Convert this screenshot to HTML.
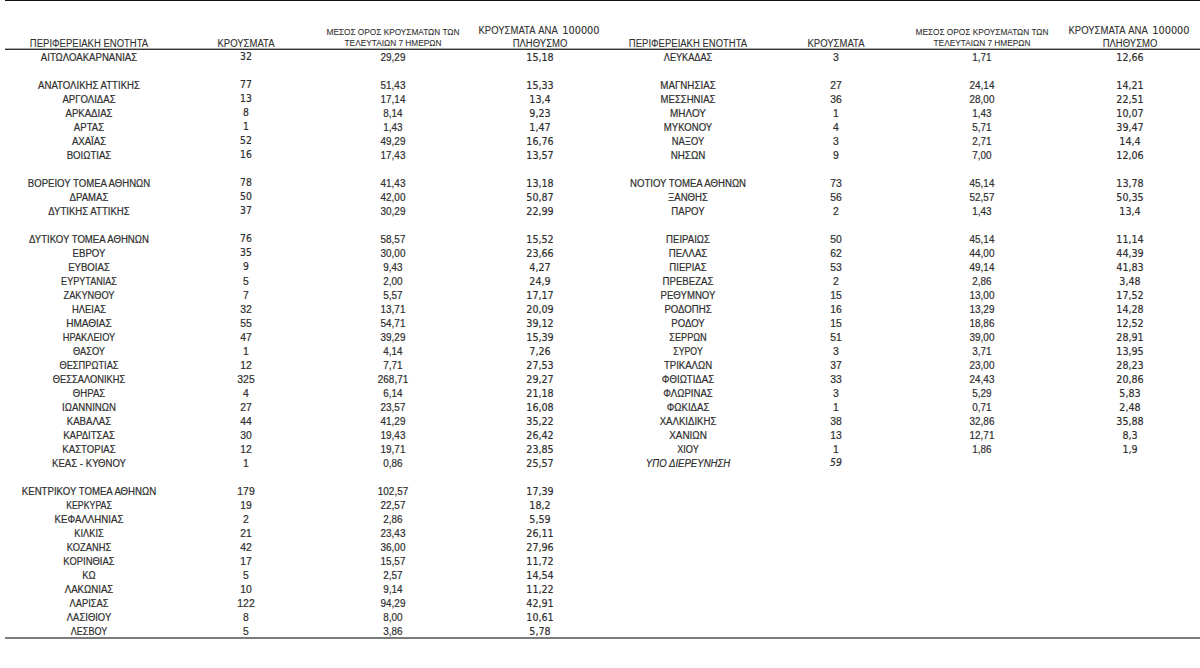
<!DOCTYPE html>
<html lang="el"><head><meta charset="utf-8"><title>Κρούσματα ανά περιφερειακή ενότητα</title>
<style>
html,body{margin:0;padding:0;background:#fff;}
body{width:1200px;height:668px;position:relative;overflow:hidden;font-family:"Liberation Sans",Arial,sans-serif;color:#2a2a2a;}
.t{position:absolute;white-space:nowrap;height:0;line-height:0;-webkit-text-stroke:0.2px #3a3a3a;}
.fnA{font-family:"Liberation Sans",Arial,sans-serif;font-size:10.0px;}
.fnC{font-family:"Liberation Sans",Arial,sans-serif;font-size:10.2px;}
.fcA{font-family:"DejaVu Sans",Verdana,sans-serif;font-size:10.0px;}
.fcC{font-family:"Liberation Sans",Arial,sans-serif;font-size:10.2px;}
.fav{font-family:"Liberation Sans",Arial,sans-serif;font-size:10.4px;}
.fpk{font-family:"DejaVu Sans",Verdana,sans-serif;font-size:10.3px;}
.fhA{font-family:"Liberation Sans",Arial,sans-serif;font-size:10.0px;}
.fhC{font-family:"Liberation Sans",Arial,sans-serif;font-size:8.9px;}
.fhV{font-family:"DejaVu Sans",Verdana,sans-serif;font-size:9.8px;}
.it{font-style:italic;}
.fhA,.fhC,.fhV{color:#2a2a2a;-webkit-text-stroke:0.08px #444;}
.v{font-family:"DejaVu Sans",Verdana,sans-serif;font-size:9.6px;}
.ln{position:absolute;}
</style></head><body>

<div class="ln" style="left:5px;top:0px;width:1195px;height:1px;background:#111"></div>
<div class="ln" style="left:5px;top:49px;width:1195px;height:1px;background:#363636"></div>
<div class="ln" style="left:5px;top:48px;width:1195px;height:1px;background:#a8a8a8"></div>
<div class="ln" style="left:5px;top:637.2px;width:1195px;height:1.5px;background:#7c7c7c"></div>

<div class="t fhA" style="left:88.80px;top:44.14px;transform:translateX(-50%) scaleX(0.95)">ΠΕΡΙΦΕΡΕΙΑΚΗ ΕΝΟΤΗΤΑ</div>
<div class="t fhA" style="left:246.00px;top:44.14px;transform:translateX(-50%) scaleX(0.95)">ΚΡΟΥΣΜΑΤΑ</div>
<div class="t fhC" style="left:392.60px;top:32.12px;transform:translateX(-50%) scaleX(0.931)">ΜΕΣΟΣ ΟΡΟΣ ΚΡΟΥΣΜΑΤΩΝ ΤΩΝ</div>
<div class="t fhC" style="left:392.60px;top:43.42px;transform:translateX(-50%) scaleX(0.933)">ΤΕΛΕΥΤΑΙΩΝ 7 ΗΜΕΡΩΝ</div>
<div class="t fhA" style="left:507.30px;top:30.64px;transform:translateX(-50%) scaleX(0.95)">ΚΡΟΥΣΜΑΤΑ</div>
<div class="t fhA" style="left:548.30px;top:30.64px;transform:translateX(-50%) scaleX(0.95)">ΑΝΑ</div>
<div class="t fhV" style="left:580.90px;top:30.70px;transform:translateX(-50%)">100000</div>
<div class="t fhA" style="left:539.50px;top:44.14px;transform:translateX(-50%) scaleX(0.95)">ΠΛΗΘΥΣΜΟ</div>
<div class="t fhA" style="left:687.70px;top:44.14px;transform:translateX(-50%) scaleX(0.95)">ΠΕΡΙΦΕΡΕΙΑΚΗ ΕΝΟΤΗΤΑ</div>
<div class="t fhA" style="left:835.50px;top:44.14px;transform:translateX(-50%) scaleX(0.95)">ΚΡΟΥΣΜΑΤΑ</div>
<div class="t fhC" style="left:982.40px;top:32.12px;transform:translateX(-50%) scaleX(0.931)">ΜΕΣΟΣ ΟΡΟΣ ΚΡΟΥΣΜΑΤΩΝ ΤΩΝ</div>
<div class="t fhC" style="left:982.40px;top:43.42px;transform:translateX(-50%) scaleX(0.933)">ΤΕΛΕΥΤΑΙΩΝ 7 ΗΜΕΡΩΝ</div>
<div class="t fhA" style="left:1097.30px;top:30.64px;transform:translateX(-50%) scaleX(0.95)">ΚΡΟΥΣΜΑΤΑ</div>
<div class="t fhA" style="left:1138.30px;top:30.64px;transform:translateX(-50%) scaleX(0.95)">ΑΝΑ</div>
<div class="t fhV" style="left:1170.90px;top:30.70px;transform:translateX(-50%)">100000</div>
<div class="t fhA" style="left:1129.50px;top:44.14px;transform:translateX(-50%) scaleX(0.95)">ΠΛΗΘΥΣΜΟ</div>
<div class="t fnA" style="left:88.80px;top:57.83px;transform:translateX(-50%) scaleX(0.96)">ΑΙΤΩΛΟΑΚΑΡΝΑΝΙΑΣ</div>
<div class="t fcA" style="left:246.00px;top:57.33px;transform:translateX(-50%) scaleX(0.93)">32</div>
<div class="t fav" style="left:392.60px;top:58.10px;transform:translateX(-50%) scaleX(0.954)">29,29</div>
<div class="t fpk" style="left:539.50px;top:56.93px;transform:translateX(-50%) scaleX(0.93)">15,18</div>
<div class="t fnA" style="left:88.80px;top:85.83px;transform:translateX(-50%) scaleX(0.96)">ΑΝΑΤΟΛΙΚΗΣ ΑΤΤΙΚΗΣ</div>
<div class="t fcA" style="left:246.00px;top:85.33px;transform:translateX(-50%) scaleX(0.93)">77</div>
<div class="t fav" style="left:392.60px;top:86.10px;transform:translateX(-50%) scaleX(0.954)">51,43</div>
<div class="t fpk" style="left:539.50px;top:84.93px;transform:translateX(-50%) scaleX(0.93)">15,33</div>
<div class="t fnA" style="left:88.80px;top:99.83px;transform:translateX(-50%) scaleX(0.96)">ΑΡΓΟΛΙΔΑΣ</div>
<div class="t fcA" style="left:246.00px;top:99.33px;transform:translateX(-50%) scaleX(0.93)">13</div>
<div class="t fav" style="left:392.60px;top:100.10px;transform:translateX(-50%) scaleX(0.954)">17,14</div>
<div class="t fpk" style="left:539.50px;top:98.93px;transform:translateX(-50%) scaleX(0.93)">13,4</div>
<div class="t fnA" style="left:88.80px;top:113.83px;transform:translateX(-50%) scaleX(0.96)">ΑΡΚΑΔΙΑΣ</div>
<div class="t fcA" style="left:246.00px;top:113.33px;transform:translateX(-50%) scaleX(0.93)">8</div>
<div class="t fav" style="left:392.60px;top:114.10px;transform:translateX(-50%) scaleX(0.953)">8,14</div>
<div class="t fpk" style="left:539.50px;top:112.93px;transform:translateX(-50%) scaleX(0.93)">9,23</div>
<div class="t fnA" style="left:88.80px;top:127.84px;transform:translateX(-50%) scaleX(0.96)">ΑΡΤΑΣ</div>
<div class="t fcA" style="left:246.00px;top:127.34px;transform:translateX(-50%) scaleX(0.93)">1</div>
<div class="t fav" style="left:392.60px;top:128.10px;transform:translateX(-50%) scaleX(0.953)">1,43</div>
<div class="t fpk" style="left:539.50px;top:126.93px;transform:translateX(-50%) scaleX(0.93)">1,47</div>
<div class="t fnA" style="left:88.80px;top:141.84px;transform:translateX(-50%) scaleX(0.96)">ΑΧΑΪΑΣ</div>
<div class="t fcA" style="left:246.00px;top:141.34px;transform:translateX(-50%) scaleX(0.93)">52</div>
<div class="t fav" style="left:392.60px;top:142.10px;transform:translateX(-50%) scaleX(0.954)">49,29</div>
<div class="t fpk" style="left:539.50px;top:140.93px;transform:translateX(-50%) scaleX(0.93)">16,76</div>
<div class="t fnA" style="left:88.80px;top:155.84px;transform:translateX(-50%) scaleX(0.96)">ΒΟΙΩΤΙΑΣ</div>
<div class="t fcA" style="left:246.00px;top:155.34px;transform:translateX(-50%) scaleX(0.93)">16</div>
<div class="t fav" style="left:392.60px;top:156.10px;transform:translateX(-50%) scaleX(0.954)">17,43</div>
<div class="t fpk" style="left:539.50px;top:154.93px;transform:translateX(-50%) scaleX(0.93)">13,57</div>
<div class="t fnA" style="left:88.80px;top:183.84px;transform:translateX(-50%) scaleX(0.96)">ΒΟΡΕΙΟΥ ΤΟΜΕΑ ΑΘΗΝΩΝ</div>
<div class="t fcA" style="left:246.00px;top:183.34px;transform:translateX(-50%) scaleX(0.93)">78</div>
<div class="t fav" style="left:392.60px;top:184.10px;transform:translateX(-50%) scaleX(0.954)">41,43</div>
<div class="t fpk" style="left:539.50px;top:182.93px;transform:translateX(-50%) scaleX(0.93)">13,18</div>
<div class="t fnA" style="left:88.80px;top:197.84px;transform:translateX(-50%) scaleX(0.96)">ΔΡΑΜΑΣ</div>
<div class="t fcA" style="left:246.00px;top:197.34px;transform:translateX(-50%) scaleX(0.93)">50</div>
<div class="t fav" style="left:392.60px;top:198.10px;transform:translateX(-50%) scaleX(0.954)">42,00</div>
<div class="t fpk" style="left:539.50px;top:196.93px;transform:translateX(-50%) scaleX(0.93)">50,87</div>
<div class="t fnA" style="left:88.80px;top:211.84px;transform:translateX(-50%) scaleX(0.96)">ΔΥΤΙΚΗΣ ΑΤΤΙΚΗΣ</div>
<div class="t fcA" style="left:246.00px;top:211.34px;transform:translateX(-50%) scaleX(0.93)">37</div>
<div class="t fav" style="left:392.60px;top:212.10px;transform:translateX(-50%) scaleX(0.954)">30,29</div>
<div class="t fpk" style="left:539.50px;top:210.93px;transform:translateX(-50%) scaleX(0.93)">22,99</div>
<div class="t fnA" style="left:88.80px;top:239.84px;transform:translateX(-50%) scaleX(0.96)">ΔΥΤΙΚΟΥ ΤΟΜΕΑ ΑΘΗΝΩΝ</div>
<div class="t fcA" style="left:246.00px;top:239.34px;transform:translateX(-50%) scaleX(0.93)">76</div>
<div class="t fav" style="left:392.60px;top:240.10px;transform:translateX(-50%) scaleX(0.954)">58,57</div>
<div class="t fpk" style="left:539.50px;top:238.93px;transform:translateX(-50%) scaleX(0.93)">15,52</div>
<div class="t fnA" style="left:88.80px;top:253.84px;transform:translateX(-50%) scaleX(0.96)">ΕΒΡΟΥ</div>
<div class="t fcA" style="left:246.00px;top:253.34px;transform:translateX(-50%) scaleX(0.93)">35</div>
<div class="t fav" style="left:392.60px;top:254.10px;transform:translateX(-50%) scaleX(0.954)">30,00</div>
<div class="t fpk" style="left:539.50px;top:252.93px;transform:translateX(-50%) scaleX(0.93)">23,66</div>
<div class="t fnA" style="left:88.80px;top:267.84px;transform:translateX(-50%) scaleX(0.96)">ΕΥΒΟΙΑΣ</div>
<div class="t fcA" style="left:246.00px;top:267.34px;transform:translateX(-50%) scaleX(0.93)">9</div>
<div class="t fav" style="left:392.60px;top:268.10px;transform:translateX(-50%) scaleX(0.953)">9,43</div>
<div class="t fpk" style="left:539.50px;top:266.93px;transform:translateX(-50%) scaleX(0.93)">4,27</div>
<div class="t fnC" style="left:88.80px;top:281.77px;transform:translateX(-50%) scaleX(0.889)">ΕΥΡΥΤΑΝΙΑΣ</div>
<div class="t fcC" style="left:246.00px;top:281.77px;transform:translateX(-50%) scaleX(1.019)">5</div>
<div class="t fav" style="left:392.60px;top:282.10px;transform:translateX(-50%) scaleX(0.953)">2,00</div>
<div class="t fpk" style="left:539.50px;top:280.93px;transform:translateX(-50%) scaleX(0.93)">24,9</div>
<div class="t fnC" style="left:88.80px;top:295.77px;transform:translateX(-50%) scaleX(0.906)">ΖΑΚΥΝΘΟΥ</div>
<div class="t fcC" style="left:246.00px;top:295.77px;transform:translateX(-50%) scaleX(1.019)">7</div>
<div class="t fav" style="left:392.60px;top:296.10px;transform:translateX(-50%) scaleX(0.953)">5,57</div>
<div class="t fpk" style="left:539.50px;top:294.93px;transform:translateX(-50%) scaleX(0.93)">17,17</div>
<div class="t fnC" style="left:88.80px;top:309.77px;transform:translateX(-50%) scaleX(0.918)">ΗΛΕΙΑΣ</div>
<div class="t fcC" style="left:246.00px;top:309.77px;transform:translateX(-50%) scaleX(1.019)">32</div>
<div class="t fav" style="left:392.60px;top:310.10px;transform:translateX(-50%) scaleX(0.954)">13,71</div>
<div class="t fpk" style="left:539.50px;top:308.93px;transform:translateX(-50%) scaleX(0.93)">20,09</div>
<div class="t fnC" style="left:88.80px;top:323.77px;transform:translateX(-50%) scaleX(0.983)">ΗΜΑΘΙΑΣ</div>
<div class="t fcC" style="left:246.00px;top:323.77px;transform:translateX(-50%) scaleX(1.019)">55</div>
<div class="t fav" style="left:392.60px;top:324.10px;transform:translateX(-50%) scaleX(0.954)">54,71</div>
<div class="t fpk" style="left:539.50px;top:322.93px;transform:translateX(-50%) scaleX(0.93)">39,12</div>
<div class="t fnC" style="left:88.80px;top:337.77px;transform:translateX(-50%) scaleX(0.906)">ΗΡΑΚΛΕΙΟΥ</div>
<div class="t fcC" style="left:246.00px;top:337.77px;transform:translateX(-50%) scaleX(1.019)">47</div>
<div class="t fav" style="left:392.60px;top:338.10px;transform:translateX(-50%) scaleX(0.954)">39,29</div>
<div class="t fpk" style="left:539.50px;top:336.93px;transform:translateX(-50%) scaleX(0.93)">15,39</div>
<div class="t fnC" style="left:88.80px;top:351.77px;transform:translateX(-50%) scaleX(0.909)">ΘΑΣΟΥ</div>
<div class="t fcC" style="left:246.00px;top:351.77px;transform:translateX(-50%) scaleX(1.019)">1</div>
<div class="t fav" style="left:392.60px;top:352.10px;transform:translateX(-50%) scaleX(0.953)">4,14</div>
<div class="t fpk" style="left:539.50px;top:350.93px;transform:translateX(-50%) scaleX(0.93)">7,26</div>
<div class="t fnC" style="left:88.80px;top:365.77px;transform:translateX(-50%) scaleX(0.91)">ΘΕΣΠΡΩΤΙΑΣ</div>
<div class="t fcC" style="left:246.00px;top:365.77px;transform:translateX(-50%) scaleX(1.019)">12</div>
<div class="t fav" style="left:392.60px;top:366.10px;transform:translateX(-50%) scaleX(0.953)">7,71</div>
<div class="t fpk" style="left:539.50px;top:364.93px;transform:translateX(-50%) scaleX(0.93)">27,53</div>
<div class="t fnC" style="left:88.80px;top:379.77px;transform:translateX(-50%) scaleX(0.914)">ΘΕΣΣΑΛΟΝΙΚΗΣ</div>
<div class="t fcC" style="left:246.00px;top:379.77px;transform:translateX(-50%) scaleX(1.019)">325</div>
<div class="t fav" style="left:392.60px;top:380.10px;transform:translateX(-50%) scaleX(0.954)">268,71</div>
<div class="t fpk" style="left:539.50px;top:378.93px;transform:translateX(-50%) scaleX(0.93)">29,27</div>
<div class="t fnA" style="left:88.80px;top:393.84px;transform:translateX(-50%) scaleX(0.96)">ΘΗΡΑΣ</div>
<div class="t fcC" style="left:246.00px;top:393.77px;transform:translateX(-50%) scaleX(1.019)">4</div>
<div class="t fav" style="left:392.60px;top:394.10px;transform:translateX(-50%) scaleX(0.953)">6,14</div>
<div class="t fpk" style="left:539.50px;top:392.93px;transform:translateX(-50%) scaleX(0.93)">21,18</div>
<div class="t fnA" style="left:88.80px;top:407.84px;transform:translateX(-50%) scaleX(0.96)">ΙΩΑΝΝΙΝΩΝ</div>
<div class="t fcC" style="left:246.00px;top:407.77px;transform:translateX(-50%) scaleX(1.019)">27</div>
<div class="t fav" style="left:392.60px;top:408.10px;transform:translateX(-50%) scaleX(0.954)">23,57</div>
<div class="t fpk" style="left:539.50px;top:406.93px;transform:translateX(-50%) scaleX(0.93)">16,08</div>
<div class="t fnA" style="left:88.80px;top:421.84px;transform:translateX(-50%) scaleX(0.96)">ΚΑΒΑΛΑΣ</div>
<div class="t fcC" style="left:246.00px;top:421.77px;transform:translateX(-50%) scaleX(1.019)">44</div>
<div class="t fav" style="left:392.60px;top:422.10px;transform:translateX(-50%) scaleX(0.954)">41,29</div>
<div class="t fpk" style="left:539.50px;top:420.93px;transform:translateX(-50%) scaleX(0.93)">35,22</div>
<div class="t fnA" style="left:88.80px;top:435.84px;transform:translateX(-50%) scaleX(0.96)">ΚΑΡΔΙΤΣΑΣ</div>
<div class="t fcC" style="left:246.00px;top:435.77px;transform:translateX(-50%) scaleX(1.019)">30</div>
<div class="t fav" style="left:392.60px;top:436.10px;transform:translateX(-50%) scaleX(0.954)">19,43</div>
<div class="t fpk" style="left:539.50px;top:434.93px;transform:translateX(-50%) scaleX(0.93)">26,42</div>
<div class="t fnA" style="left:88.80px;top:449.84px;transform:translateX(-50%) scaleX(0.96)">ΚΑΣΤΟΡΙΑΣ</div>
<div class="t fcC" style="left:246.00px;top:449.77px;transform:translateX(-50%) scaleX(1.019)">12</div>
<div class="t fav" style="left:392.60px;top:450.10px;transform:translateX(-50%) scaleX(0.954)">19,71</div>
<div class="t fpk" style="left:539.50px;top:448.93px;transform:translateX(-50%) scaleX(0.93)">23,85</div>
<div class="t fnA" style="left:88.80px;top:463.84px;transform:translateX(-50%) scaleX(0.96)">ΚΕΑΣ - ΚΥΘΝΟΥ</div>
<div class="t fcC" style="left:246.00px;top:463.77px;transform:translateX(-50%) scaleX(1.019)">1</div>
<div class="t fav" style="left:392.60px;top:464.10px;transform:translateX(-50%) scaleX(0.953)">0,86</div>
<div class="t fpk" style="left:539.50px;top:462.93px;transform:translateX(-50%) scaleX(0.93)">25,57</div>
<div class="t fnC" style="left:88.80px;top:491.77px;transform:translateX(-50%) scaleX(0.946)">ΚΕΝΤΡΙΚΟΥ ΤΟΜΕΑ ΑΘΗΝΩΝ</div>
<div class="t fcC" style="left:246.00px;top:491.77px;transform:translateX(-50%) scaleX(1.019)">179</div>
<div class="t fav" style="left:392.60px;top:492.10px;transform:translateX(-50%) scaleX(0.954)">102,57</div>
<div class="t fpk" style="left:539.50px;top:490.93px;transform:translateX(-50%) scaleX(0.93)">17,39</div>
<div class="t fnC" style="left:88.80px;top:505.77px;transform:translateX(-50%) scaleX(0.86)">ΚΕΡΚΥΡΑΣ</div>
<div class="t fcC" style="left:246.00px;top:505.77px;transform:translateX(-50%) scaleX(1.019)">19</div>
<div class="t fav" style="left:392.60px;top:506.10px;transform:translateX(-50%) scaleX(0.954)">22,57</div>
<div class="t fpk" style="left:539.50px;top:504.93px;transform:translateX(-50%) scaleX(0.93)">18,2</div>
<div class="t fnC" style="left:88.80px;top:519.77px;transform:translateX(-50%) scaleX(0.95)">ΚΕΦΑΛΛΗΝΙΑΣ</div>
<div class="t fcC" style="left:246.00px;top:519.77px;transform:translateX(-50%) scaleX(1.019)">2</div>
<div class="t fav" style="left:392.60px;top:520.10px;transform:translateX(-50%) scaleX(0.953)">2,86</div>
<div class="t fpk" style="left:539.50px;top:518.93px;transform:translateX(-50%) scaleX(0.93)">5,59</div>
<div class="t fnC" style="left:88.80px;top:533.77px;transform:translateX(-50%) scaleX(0.906)">ΚΙΛΚΙΣ</div>
<div class="t fcC" style="left:246.00px;top:533.77px;transform:translateX(-50%) scaleX(1.019)">21</div>
<div class="t fav" style="left:392.60px;top:534.10px;transform:translateX(-50%) scaleX(0.954)">23,43</div>
<div class="t fpk" style="left:539.50px;top:532.93px;transform:translateX(-50%) scaleX(0.93)">26,11</div>
<div class="t fnC" style="left:88.80px;top:547.77px;transform:translateX(-50%) scaleX(0.914)">ΚΟΖΑΝΗΣ</div>
<div class="t fcC" style="left:246.00px;top:547.77px;transform:translateX(-50%) scaleX(1.019)">42</div>
<div class="t fav" style="left:392.60px;top:548.10px;transform:translateX(-50%) scaleX(0.954)">36,00</div>
<div class="t fpk" style="left:539.50px;top:546.93px;transform:translateX(-50%) scaleX(0.93)">27,96</div>
<div class="t fnC" style="left:88.80px;top:561.77px;transform:translateX(-50%) scaleX(0.928)">ΚΟΡΙΝΘΙΑΣ</div>
<div class="t fcC" style="left:246.00px;top:561.77px;transform:translateX(-50%) scaleX(1.019)">17</div>
<div class="t fav" style="left:392.60px;top:562.10px;transform:translateX(-50%) scaleX(0.954)">15,57</div>
<div class="t fpk" style="left:539.50px;top:560.93px;transform:translateX(-50%) scaleX(0.93)">11,72</div>
<div class="t fnC" style="left:88.80px;top:575.77px;transform:translateX(-50%) scaleX(0.935)">ΚΩ</div>
<div class="t fcC" style="left:246.00px;top:575.77px;transform:translateX(-50%) scaleX(1.019)">5</div>
<div class="t fav" style="left:392.60px;top:576.10px;transform:translateX(-50%) scaleX(0.953)">2,57</div>
<div class="t fpk" style="left:539.50px;top:574.93px;transform:translateX(-50%) scaleX(0.93)">14,54</div>
<div class="t fnC" style="left:88.80px;top:589.77px;transform:translateX(-50%) scaleX(0.948)">ΛΑΚΩΝΙΑΣ</div>
<div class="t fcC" style="left:246.00px;top:589.77px;transform:translateX(-50%) scaleX(1.019)">10</div>
<div class="t fav" style="left:392.60px;top:590.10px;transform:translateX(-50%) scaleX(0.953)">9,14</div>
<div class="t fpk" style="left:539.50px;top:588.93px;transform:translateX(-50%) scaleX(0.93)">11,22</div>
<div class="t fnC" style="left:88.80px;top:603.77px;transform:translateX(-50%) scaleX(0.913)">ΛΑΡΙΣΑΣ</div>
<div class="t fcC" style="left:246.00px;top:603.77px;transform:translateX(-50%) scaleX(1.019)">122</div>
<div class="t fav" style="left:392.60px;top:604.10px;transform:translateX(-50%) scaleX(0.954)">94,29</div>
<div class="t fpk" style="left:539.50px;top:602.93px;transform:translateX(-50%) scaleX(0.93)">42,91</div>
<div class="t fnC" style="left:88.80px;top:617.77px;transform:translateX(-50%) scaleX(0.928)">ΛΑΣΙΘΙΟΥ</div>
<div class="t fcC" style="left:246.00px;top:617.77px;transform:translateX(-50%) scaleX(1.019)">8</div>
<div class="t fav" style="left:392.60px;top:618.10px;transform:translateX(-50%) scaleX(0.953)">8,00</div>
<div class="t fpk" style="left:539.50px;top:616.93px;transform:translateX(-50%) scaleX(0.93)">10,61</div>
<div class="t fnC" style="left:88.80px;top:631.77px;transform:translateX(-50%) scaleX(0.884)">ΛΕΣΒΟΥ</div>
<div class="t fcC" style="left:246.00px;top:631.77px;transform:translateX(-50%) scaleX(1.019)">5</div>
<div class="t fav" style="left:392.60px;top:632.10px;transform:translateX(-50%) scaleX(0.953)">3,86</div>
<div class="t fpk" style="left:539.50px;top:630.93px;transform:translateX(-50%) scaleX(0.93)">5,78</div>
<div class="t fnC" style="left:687.70px;top:57.77px;transform:translateX(-50%) scaleX(0.898)">ΛΕΥΚΑΔΑΣ</div>
<div class="t fcC" style="left:835.50px;top:57.77px;transform:translateX(-50%) scaleX(1.019)">3</div>
<div class="t fav" style="left:982.40px;top:58.10px;transform:translateX(-50%) scaleX(0.953)">1,71</div>
<div class="t fpk" style="left:1129.50px;top:56.93px;transform:translateX(-50%) scaleX(0.93)">12,66</div>
<div class="t fnC" style="left:687.70px;top:85.77px;transform:translateX(-50%) scaleX(0.958)">ΜΑΓΝΗΣΙΑΣ</div>
<div class="t fcC" style="left:835.50px;top:85.77px;transform:translateX(-50%) scaleX(1.019)">27</div>
<div class="t fav" style="left:982.40px;top:86.10px;transform:translateX(-50%) scaleX(0.954)">24,14</div>
<div class="t fpk" style="left:1129.50px;top:84.93px;transform:translateX(-50%) scaleX(0.93)">14,21</div>
<div class="t fnC" style="left:687.70px;top:99.77px;transform:translateX(-50%) scaleX(0.937)">ΜΕΣΣΗΝΙΑΣ</div>
<div class="t fcC" style="left:835.50px;top:99.77px;transform:translateX(-50%) scaleX(1.019)">36</div>
<div class="t fav" style="left:982.40px;top:100.10px;transform:translateX(-50%) scaleX(0.954)">28,00</div>
<div class="t fpk" style="left:1129.50px;top:98.93px;transform:translateX(-50%) scaleX(0.93)">22,51</div>
<div class="t fnC" style="left:687.70px;top:113.77px;transform:translateX(-50%) scaleX(0.977)">ΜΗΛΟΥ</div>
<div class="t fcC" style="left:835.50px;top:113.77px;transform:translateX(-50%) scaleX(1.019)">1</div>
<div class="t fav" style="left:982.40px;top:114.10px;transform:translateX(-50%) scaleX(0.953)">1,43</div>
<div class="t fpk" style="left:1129.50px;top:112.93px;transform:translateX(-50%) scaleX(0.93)">10,07</div>
<div class="t fnC" style="left:687.70px;top:127.77px;transform:translateX(-50%) scaleX(0.941)">ΜΥΚΟΝΟΥ</div>
<div class="t fcC" style="left:835.50px;top:127.77px;transform:translateX(-50%) scaleX(1.019)">4</div>
<div class="t fav" style="left:982.40px;top:128.10px;transform:translateX(-50%) scaleX(0.953)">5,71</div>
<div class="t fpk" style="left:1129.50px;top:126.93px;transform:translateX(-50%) scaleX(0.93)">39,47</div>
<div class="t fnC" style="left:687.70px;top:141.77px;transform:translateX(-50%) scaleX(0.92)">ΝΑΞΟΥ</div>
<div class="t fcC" style="left:835.50px;top:141.77px;transform:translateX(-50%) scaleX(1.019)">3</div>
<div class="t fav" style="left:982.40px;top:142.10px;transform:translateX(-50%) scaleX(0.953)">2,71</div>
<div class="t fpk" style="left:1129.50px;top:140.93px;transform:translateX(-50%) scaleX(0.93)">14,4</div>
<div class="t fnC" style="left:687.70px;top:155.77px;transform:translateX(-50%) scaleX(0.961)">ΝΗΣΩΝ</div>
<div class="t fcC" style="left:835.50px;top:155.77px;transform:translateX(-50%) scaleX(1.019)">9</div>
<div class="t fav" style="left:982.40px;top:156.10px;transform:translateX(-50%) scaleX(0.953)">7,00</div>
<div class="t fpk" style="left:1129.50px;top:154.93px;transform:translateX(-50%) scaleX(0.93)">12,06</div>
<div class="t fnA" style="left:687.70px;top:183.84px;transform:translateX(-50%) scaleX(0.96)">ΝΟΤΙΟΥ ΤΟΜΕΑ ΑΘΗΝΩΝ</div>
<div class="t fcC" style="left:835.50px;top:183.77px;transform:translateX(-50%) scaleX(1.019)">73</div>
<div class="t fav" style="left:982.40px;top:184.10px;transform:translateX(-50%) scaleX(0.954)">45,14</div>
<div class="t fpk" style="left:1129.50px;top:182.93px;transform:translateX(-50%) scaleX(0.93)">13,78</div>
<div class="t fnA" style="left:687.70px;top:197.84px;transform:translateX(-50%) scaleX(0.96)">ΞΑΝΘΗΣ</div>
<div class="t fcC" style="left:835.50px;top:197.77px;transform:translateX(-50%) scaleX(1.019)">56</div>
<div class="t fav" style="left:982.40px;top:198.10px;transform:translateX(-50%) scaleX(0.954)">52,57</div>
<div class="t fpk" style="left:1129.50px;top:196.93px;transform:translateX(-50%) scaleX(0.93)">50,35</div>
<div class="t fnA" style="left:687.70px;top:211.84px;transform:translateX(-50%) scaleX(0.96)">ΠΑΡΟΥ</div>
<div class="t fcC" style="left:835.50px;top:211.77px;transform:translateX(-50%) scaleX(1.019)">2</div>
<div class="t fav" style="left:982.40px;top:212.10px;transform:translateX(-50%) scaleX(0.953)">1,43</div>
<div class="t fpk" style="left:1129.50px;top:210.93px;transform:translateX(-50%) scaleX(0.93)">13,4</div>
<div class="t fnA" style="left:687.70px;top:239.84px;transform:translateX(-50%) scaleX(0.96)">ΠΕΙΡΑΙΩΣ</div>
<div class="t fcC" style="left:835.50px;top:239.77px;transform:translateX(-50%) scaleX(1.019)">50</div>
<div class="t fav" style="left:982.40px;top:240.10px;transform:translateX(-50%) scaleX(0.954)">45,14</div>
<div class="t fpk" style="left:1129.50px;top:238.93px;transform:translateX(-50%) scaleX(0.93)">11,14</div>
<div class="t fnA" style="left:687.70px;top:253.84px;transform:translateX(-50%) scaleX(0.96)">ΠΕΛΛΑΣ</div>
<div class="t fcC" style="left:835.50px;top:253.77px;transform:translateX(-50%) scaleX(1.019)">62</div>
<div class="t fav" style="left:982.40px;top:254.10px;transform:translateX(-50%) scaleX(0.954)">44,00</div>
<div class="t fpk" style="left:1129.50px;top:252.93px;transform:translateX(-50%) scaleX(0.93)">44,39</div>
<div class="t fnA" style="left:687.70px;top:267.84px;transform:translateX(-50%) scaleX(0.96)">ΠΙΕΡΙΑΣ</div>
<div class="t fcC" style="left:835.50px;top:267.77px;transform:translateX(-50%) scaleX(1.019)">53</div>
<div class="t fav" style="left:982.40px;top:268.10px;transform:translateX(-50%) scaleX(0.954)">49,14</div>
<div class="t fpk" style="left:1129.50px;top:266.93px;transform:translateX(-50%) scaleX(0.93)">41,83</div>
<div class="t fnA" style="left:687.70px;top:281.84px;transform:translateX(-50%) scaleX(0.96)">ΠΡΕΒΕΖΑΣ</div>
<div class="t fcC" style="left:835.50px;top:281.77px;transform:translateX(-50%) scaleX(1.019)">2</div>
<div class="t fav" style="left:982.40px;top:282.10px;transform:translateX(-50%) scaleX(0.953)">2,86</div>
<div class="t fpk" style="left:1129.50px;top:280.93px;transform:translateX(-50%) scaleX(0.93)">3,48</div>
<div class="t fnA" style="left:687.70px;top:295.84px;transform:translateX(-50%) scaleX(0.96)">ΡΕΘΥΜΝΟΥ</div>
<div class="t fcC" style="left:835.50px;top:295.77px;transform:translateX(-50%) scaleX(1.019)">15</div>
<div class="t fav" style="left:982.40px;top:296.10px;transform:translateX(-50%) scaleX(0.954)">13,00</div>
<div class="t fpk" style="left:1129.50px;top:294.93px;transform:translateX(-50%) scaleX(0.93)">17,52</div>
<div class="t fnA" style="left:687.70px;top:309.84px;transform:translateX(-50%) scaleX(0.96)">ΡΟΔΟΠΗΣ</div>
<div class="t fcC" style="left:835.50px;top:309.77px;transform:translateX(-50%) scaleX(1.019)">16</div>
<div class="t fav" style="left:982.40px;top:310.10px;transform:translateX(-50%) scaleX(0.954)">13,29</div>
<div class="t fpk" style="left:1129.50px;top:308.93px;transform:translateX(-50%) scaleX(0.93)">14,28</div>
<div class="t fnA" style="left:687.70px;top:323.84px;transform:translateX(-50%) scaleX(0.96)">ΡΟΔΟΥ</div>
<div class="t fcC" style="left:835.50px;top:323.77px;transform:translateX(-50%) scaleX(1.019)">15</div>
<div class="t fav" style="left:982.40px;top:324.10px;transform:translateX(-50%) scaleX(0.954)">18,86</div>
<div class="t fpk" style="left:1129.50px;top:322.93px;transform:translateX(-50%) scaleX(0.93)">12,52</div>
<div class="t fnC" style="left:687.70px;top:337.77px;transform:translateX(-50%) scaleX(0.899)">ΣΕΡΡΩΝ</div>
<div class="t fcC" style="left:835.50px;top:337.77px;transform:translateX(-50%) scaleX(1.019)">51</div>
<div class="t fav" style="left:982.40px;top:338.10px;transform:translateX(-50%) scaleX(0.954)">39,00</div>
<div class="t fpk" style="left:1129.50px;top:336.93px;transform:translateX(-50%) scaleX(0.93)">28,91</div>
<div class="t fnC" style="left:687.70px;top:351.77px;transform:translateX(-50%) scaleX(0.859)">ΣΥΡΟΥ</div>
<div class="t fcC" style="left:835.50px;top:351.77px;transform:translateX(-50%) scaleX(1.019)">3</div>
<div class="t fav" style="left:982.40px;top:352.10px;transform:translateX(-50%) scaleX(0.953)">3,71</div>
<div class="t fpk" style="left:1129.50px;top:350.93px;transform:translateX(-50%) scaleX(0.93)">13,95</div>
<div class="t fnC" style="left:687.70px;top:365.77px;transform:translateX(-50%) scaleX(0.942)">ΤΡΙΚΑΛΩΝ</div>
<div class="t fcC" style="left:835.50px;top:365.77px;transform:translateX(-50%) scaleX(1.019)">37</div>
<div class="t fav" style="left:982.40px;top:366.10px;transform:translateX(-50%) scaleX(0.954)">23,00</div>
<div class="t fpk" style="left:1129.50px;top:364.93px;transform:translateX(-50%) scaleX(0.93)">28,23</div>
<div class="t fnA" style="left:687.70px;top:379.84px;transform:translateX(-50%) scaleX(0.96)">ΦΘΙΩΤΙΔΑΣ</div>
<div class="t fcC" style="left:835.50px;top:379.77px;transform:translateX(-50%) scaleX(1.019)">33</div>
<div class="t fav" style="left:982.40px;top:380.10px;transform:translateX(-50%) scaleX(0.954)">24,43</div>
<div class="t fpk" style="left:1129.50px;top:378.93px;transform:translateX(-50%) scaleX(0.93)">20,86</div>
<div class="t fnA" style="left:687.70px;top:393.84px;transform:translateX(-50%) scaleX(0.96)">ΦΛΩΡΙΝΑΣ</div>
<div class="t fcC" style="left:835.50px;top:393.77px;transform:translateX(-50%) scaleX(1.019)">3</div>
<div class="t fav" style="left:982.40px;top:394.10px;transform:translateX(-50%) scaleX(0.953)">5,29</div>
<div class="t fpk" style="left:1129.50px;top:392.93px;transform:translateX(-50%) scaleX(0.93)">5,83</div>
<div class="t fnA" style="left:687.70px;top:407.84px;transform:translateX(-50%) scaleX(0.96)">ΦΩΚΙΔΑΣ</div>
<div class="t fcC" style="left:835.50px;top:407.77px;transform:translateX(-50%) scaleX(1.019)">1</div>
<div class="t fav" style="left:982.40px;top:408.10px;transform:translateX(-50%) scaleX(0.953)">0,71</div>
<div class="t fpk" style="left:1129.50px;top:406.93px;transform:translateX(-50%) scaleX(0.93)">2,48</div>
<div class="t fnA" style="left:687.70px;top:421.84px;transform:translateX(-50%) scaleX(0.96)">ΧΑΛΚΙΔΙΚΗΣ</div>
<div class="t fcC" style="left:835.50px;top:421.77px;transform:translateX(-50%) scaleX(1.019)">38</div>
<div class="t fav" style="left:982.40px;top:422.10px;transform:translateX(-50%) scaleX(0.954)">32,86</div>
<div class="t fpk" style="left:1129.50px;top:420.93px;transform:translateX(-50%) scaleX(0.93)">35,88</div>
<div class="t fnC" style="left:687.70px;top:435.77px;transform:translateX(-50%) scaleX(0.971)">ΧΑΝΙΩΝ</div>
<div class="t fcC" style="left:835.50px;top:435.77px;transform:translateX(-50%) scaleX(1.019)">13</div>
<div class="t fav" style="left:982.40px;top:436.10px;transform:translateX(-50%) scaleX(0.954)">12,71</div>
<div class="t fpk" style="left:1129.50px;top:434.93px;transform:translateX(-50%) scaleX(0.93)">8,3</div>
<div class="t fnC" style="left:687.70px;top:449.77px;transform:translateX(-50%) scaleX(0.899)">ΧΙΟΥ</div>
<div class="t fcC" style="left:835.50px;top:449.77px;transform:translateX(-50%) scaleX(1.019)">1</div>
<div class="t fav" style="left:982.40px;top:450.10px;transform:translateX(-50%) scaleX(0.953)">1,86</div>
<div class="t fpk" style="left:1129.50px;top:448.93px;transform:translateX(-50%) scaleX(0.93)">1,9</div>
<div class="t fnA it" style="left:687.70px;top:463.84px;transform:translateX(-50%) scaleX(0.959)">ΥΠΟ ΔΙΕΡΕΥΝΗΣΗ</div>
<div class="t fcA it" style="left:835.50px;top:463.34px;transform:translateX(-50%) scaleX(0.93)">59</div>
</body></html>
